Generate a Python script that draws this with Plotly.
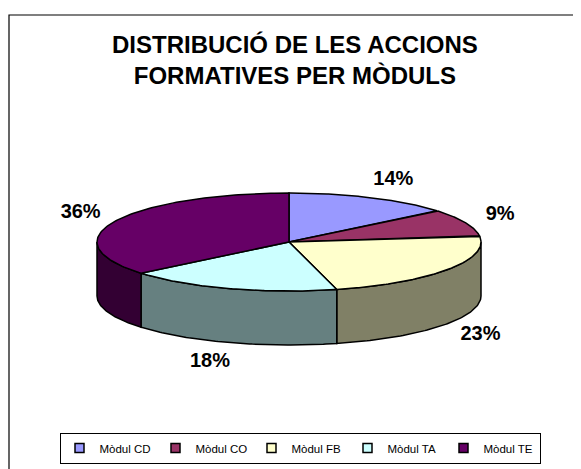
import numpy as np
import plotly.graph_objects as go

# ---- data ----
categories = ["Mòdul CD", "Mòdul CO", "Mòdul FB", "Mòdul TA", "Mòdul TE"]
values = [14, 9, 23, 18, 36]
top_colors = ["#9999FF", "#993366", "#FFFFCC", "#CCFFFF", "#660066"]
side_colors = ["#4D4D80", "#4D1A33", "#808066", "#668080", "#330033"]
title_text = "DISTRIBUCIÓ DE LES ACCIONS<br>FORMATIVES PER MÒDULS"

# ---- geometry (screen pixel space; page body has an 8px margin) ----
W, H = 581, 469
OFF = 8
cx, cy, rx, ry, depth = 289, 242, 192, 49, 54
FONT = "Arial, Liberation Sans, sans-serif"

total = float(sum(values))
fr = np.array(values) / total
starts = np.concatenate([[0], np.cumsum(fr)[:-1]]) * 2 * np.pi
ends = np.cumsum(fr) * 2 * np.pi


def ex(t):
    return cx + rx * np.sin(t)


def ey(t, off=0.0):
    return cy - ry * np.cos(t) + off


fig = go.Figure()

# side walls (front half only)
for i in range(len(values)):
    a0 = max(starts[i], np.pi / 2)
    a1 = min(ends[i], 3 * np.pi / 2)
    if a1 <= a0:
        continue
    t = np.linspace(a0, a1, 80)
    xs = np.concatenate([ex(t), ex(t[::-1]), [ex(t[0])]])
    ys = np.concatenate([ey(t), ey(t[::-1], depth), [ey(t[0])]])
    fig.add_trace(go.Scatter(
        x=xs, y=ys, mode="lines", fill="toself",
        fillcolor=side_colors[i], line=dict(color="black", width=1.5),
        showlegend=False, legendgroup=categories[i], hoverinfo="skip"))

# top faces
for i in range(len(values)):
    t = np.linspace(starts[i], ends[i], 120)
    xs = np.concatenate([[cx], ex(t), [cx]])
    ys = np.concatenate([[cy], ey(t), [cy]])
    fig.add_trace(go.Scatter(
        x=xs, y=ys, mode="lines", fill="toself",
        fillcolor=top_colors[i], line=dict(color="black", width=1.5),
        name=categories[i], legendgroup=categories[i],
        showlegend=False, hoverinfo="name"))

# legend entries (square swatches like the original)
for i in range(len(values)):
    fig.add_trace(go.Scatter(
        x=[None], y=[None], mode="markers", name=categories[i],
        legendgroup=categories[i],
        marker=dict(symbol="square", size=9, color=top_colors[i],
                    line=dict(color="black", width=1.5))))

# percentage labels
mids = (starts + ends) / 2
lx = cx + (rx + 25) * np.sin(mids) + 12 * np.sign(np.sin(mids))
ly = cy - (ry + 20) * np.cos(mids) + np.where(np.cos(mids) < 0, depth, 0)
fig.add_trace(go.Scatter(
    x=lx, y=ly, mode="text",
    text=[f"{round(v / total * 100)}%" for v in values],
    textfont=dict(family=FONT, size=20, color="black", weight="bold"),
    showlegend=False, hoverinfo="skip"))

fig.add_annotation(
    x=295, y=60, xref="x", yref="y", text=title_text, showarrow=False,
    font=dict(family=FONT, size=24, color="black", weight="bold"),
    yanchor="middle", xanchor="center")

# chart frame
fig.add_shape(type="rect", x0=9, y0=15, x1=W + 20, y1=H + 20,
              xref="x", yref="y", line=dict(color="black", width=1.2),
              layer="below")

fig.update_layout(
    width=W - OFF, height=H - OFF,
    margin=dict(l=0, r=0, t=0, b=0),
    paper_bgcolor="white", plot_bgcolor="white",
    xaxis=dict(range=[OFF, W], visible=False, fixedrange=True),
    yaxis=dict(range=[H, OFF], visible=False, fixedrange=True),
    showlegend=True,
    legend=dict(orientation="h", x=(300 - OFF) / (W - OFF),
                y=(H - 448) / (H - OFF),
                xanchor="center", yanchor="middle",
                bordercolor="black", borderwidth=1, bgcolor="white",
                font=dict(family=FONT, size=11.5, color="black"),
                entrywidth=51, entrywidthmode="pixels",
                itemwidth=30, tracegroupgap=0),
)

fig.write_html("out.html")
